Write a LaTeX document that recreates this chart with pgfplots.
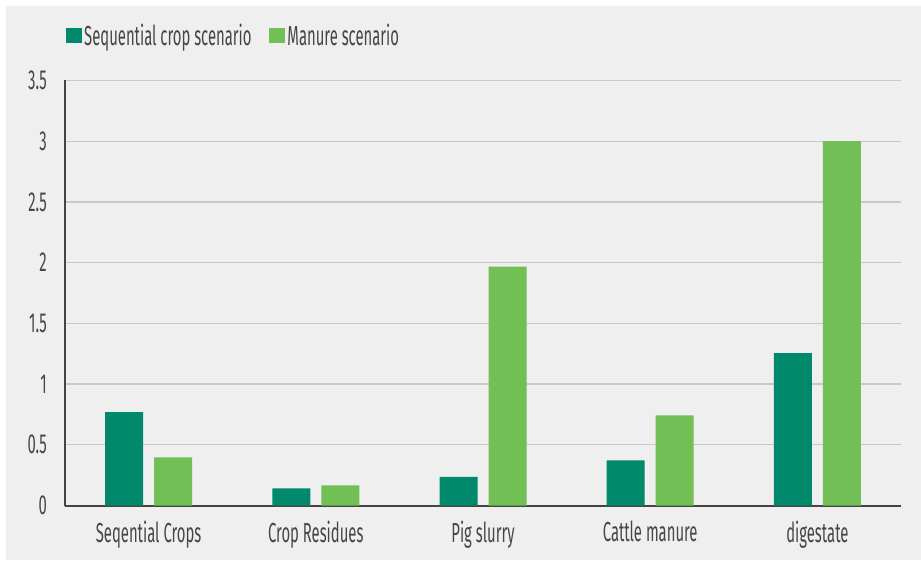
\documentclass[border=0pt]{standalone}
\usepackage{fontspec}
\setmainfont{Fira Sans}[FakeStretch=0.54]
\usepackage{pgfplots}
\pgfplotsset{compat=1.18}
\definecolor{seqgreen}{RGB}{0,137,106}
\definecolor{manuregreen}{RGB}{114,191,85}
\definecolor{bggray}{RGB}{239,239,239}
\definecolor{gridgray}{RGB}{200,200,200}
\definecolor{axisgray}{RGB}{68,68,68}
\definecolor{txtgray}{RGB}{70,70,70}
\begin{document}
\begin{tikzpicture}[font=\fontsize{27.5}{32}\selectfont]
\useasboundingbox (0pt,0pt) rectangle (921pt,560pt);
\fill[white] (0pt,0pt) rectangle (921pt,560pt);
\fill[bggray] (6pt,0pt) rectangle (921pt,554pt);
\begin{axis}[
    at={(65pt,54.5pt)}, anchor=south west,
    scale only axis, width=836pt, height=425pt,
    ybar=11pt, bar width=38pt,
    xmin=-0.5, xmax=4.5, ymin=0, ymax=3.5,
    xtick={0,1,2,3,4},
    xticklabels={Seqential Crops, Crop Residues, Pig slurry, Cattle manure, digestate},
    ytick={0,0.5,1,1.5,2,2.5,3,3.5},
    axis x line*=bottom, axis y line*=left,
    axis line style={-, axisgray, line width=2pt},
    ymajorgrids, grid style={gridgray, line width=1.3pt},
    major tick length=0pt, tick style={draw=none},
    /pgf/number format/assume math mode=true,
    tick label style={text=txtgray, inner sep=0pt},
    yticklabel style={anchor=east, xshift=-18pt},
    xticklabel style={anchor=north, yshift=-15pt},
    legend columns=2,
    legend style={draw=none, fill=none, at={(0,1)}, anchor=south west,
        xshift=-2pt, yshift=29pt, text=txtgray,
        /tikz/every even column/.append style={column sep=16pt}},
    legend image code/.code={\fill[#1] (0pt,-7.5pt) rectangle (16pt,7.5pt);},
]
\addplot[fill=seqgreen, draw=none] coordinates {
    (0, 0.768) (1, 0.142) (2, 0.235) (3, 0.372) (4, 1.254)
};
\addlegendentry{Sequential crop scenario}
\addplot[fill=manuregreen, draw=none] coordinates {
    (0, 0.397) (1, 0.166) (2, 1.967) (3, 0.743) (4, 3.0)
};
\addlegendentry{Manure scenario}
\end{axis}
\end{tikzpicture}
\end{document}
